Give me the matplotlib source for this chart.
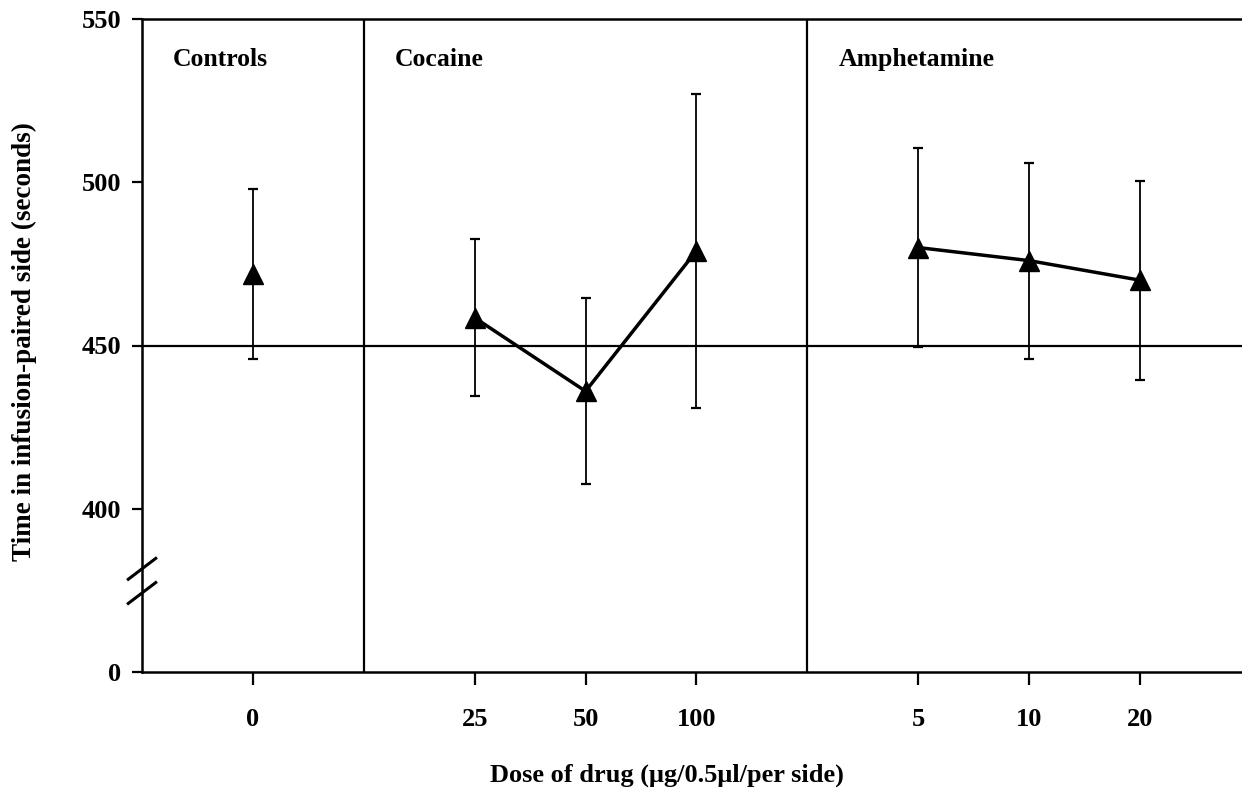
import matplotlib
matplotlib.use("Agg")
from matplotlib import pyplot as plt

plt.rcParams['font.family'] = ['Liberation Serif', 'DejaVu Serif']
plt.rcParams['font.weight'] = 'bold'

# group / dose data (seconds in infusion-paired side)
groups = ["Controls", "Cocaine", "Amphetamine"]
doses = [["0"], ["25", "50", "100"], ["5", "10", "20"]]
means = [[472], [458.5, 436, 479], [480, 476, 470]]
sems = [[26], [24, 28.5, 48], [30.5, 30, 30.5]]

y_ticks = [350, 400, 450, 500, 550]
y_labels = ["0", "400", "450", "500", "550"]
baseline = 450

fig = plt.figure(figsize=(12.42, 7.95), dpi=100)
ax = fig.add_axes([142 / 1242, 1 - 672 / 795, 1 - 142 / 1242, (672 - 19) / 795])

pos = 1
xt, xl, dividers, starts = [], [], [], []
for gi, (g, d, m, s) in enumerate(zip(groups, doses, means, sems)):
	xs = list(range(pos, pos + len(d)))
	starts.append(pos - 1)
	ax.errorbar(xs, m, yerr=s, fmt='none', ecolor='k', elinewidth=1.3,
	            capsize=3.6, capthick=1.6, zorder=3)
	ax.plot(xs, m, color='k', lw=2.5, marker='^', ms=15, zorder=4)
	xt += xs
	xl += d
	pos += len(d) + 1
	if gi < len(groups) - 1:
		dividers.append(pos - 1)

for xd in dividers:
	ax.axvline(xd, color='k', lw=1.6)
ax.axhline(baseline, color='k', lw=1.6)

for g, x0 in zip(groups, starts):
	ax.text(x0 + 0.28, 537.5, g, fontsize=18.5, fontweight='bold', va='center', ha='left')

ax.set_xlim(0, 9.92)
ax.set_ylim(350, 550)
ax.set_xticks(xt)
ax.set_xticklabels(xl)
ax.set_yticks(y_ticks)
ax.set_yticklabels(y_labels)
ax.tick_params(axis='both', labelsize=19, width=1.6, direction='out')
ax.tick_params(axis='x', length=9, pad=17)
ax.tick_params(axis='y', length=7, pad=8)
ax.spines['right'].set_visible(False)
for sp in ['left', 'top', 'bottom']:
	ax.spines[sp].set_linewidth(1.8)

# axis break on the y axis
kw = dict(transform=ax.transAxes, color='k', lw=2.2, clip_on=False)
for yc in [0.158, 0.121]:
	ax.plot([-0.0125, 0.0125], [yc - 0.016, yc + 0.016], **kw)

fig.text(667 / 1242, 1 - 775 / 795, "Dose of drug (\u03bcg/0.5\u03bcl/per side)",
         fontsize=19, fontweight='bold', ha='center', va='center')
fig.text(24 / 1242, 1 - 342 / 795, "Time in infusion-paired side (seconds)",
         fontsize=19.5, fontweight='bold', ha='center', va='center', rotation=90)

fig.savefig("out.png", dpi=100)
